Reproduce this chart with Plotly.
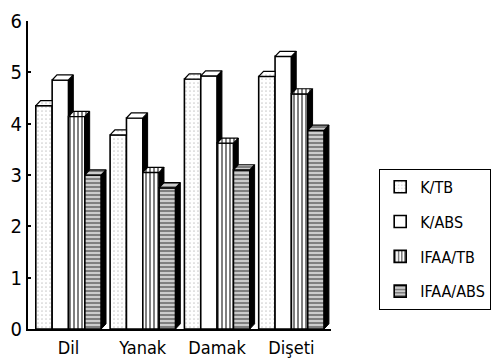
import plotly.graph_objects as go

# Mean scores per oral site for each group
categories = ["Dil", "Yanak", "Damak", "Dişeti"]
series_names = ["K/TB", "K/ABS", "IFAA/TB", "IFAA/ABS"]
k_tb = [4.35, 3.78, 4.87, 4.92]
k_abs = [4.85, 4.11, 4.93, 5.31]
ifaa_tb = [4.14, 3.05, 3.62, 4.58]
ifaa_abs = [3.00, 2.75, 3.10, 3.87]
y_ticks = [0, 1, 2, 3, 4, 5, 6]

series_values = [k_tb, k_abs, ifaa_tb, ifaa_abs]

FONT = "DejaVu Sans Condensed, Liberation Sans, Arial, sans-serif"

# fill patterns for each series (front face)
patterns = [
    dict(shape=".", fgcolor="#9a9a9a", bgcolor="white", size=4, solidity=0.15),
    dict(shape="", fgcolor="black", bgcolor="white"),
    dict(shape="|", fgcolor="black", bgcolor="white", size=4, solidity=0.5),
    dict(shape="-", fgcolor="black", bgcolor="white", size=4, solidity=0.7),
]

n_series = len(series_values)
group_width = 0.88
bar_w = group_width / n_series
offsets = [-group_width / 2 + bar_w * (i + 0.5) for i in range(n_series)]

# pseudo-3D depth in data units (about 5 px each way)
x_range = [-0.545, 3.533]
y_range = [0, 6]
depth_x = 0.065
depth_y = 0.10

fig = go.Figure()

for i, (name, vals) in enumerate(zip(series_names, series_values)):
    fig.add_trace(go.Bar(
        name=name,
        x=[j + offsets[i] for j in range(len(categories))],
        y=vals,
        width=bar_w,
        marker=dict(color="white", pattern=patterns[i],
                    line=dict(color="black", width=1.6)),
        legendgroup=name,
    ))

# side faces (dark), clipped where the neighbouring bar's front hides them
for i, vals in enumerate(series_values):
    xs, ys = [], []
    for j, v in enumerate(vals):
        right = j + offsets[i] + bar_w / 2
        bottom = 0.0
        if i + 1 < n_series:
            nxt = series_values[i + 1][j]
            if nxt >= v:
                continue
            bottom = nxt
        xs += [right, right + depth_x, right + depth_x, right, right, None]
        ys += [bottom, bottom + depth_y, v + depth_y, v, bottom, None]
    fig.add_trace(go.Scatter(
        x=xs, y=ys, mode="lines", fill="toself", fillcolor="black",
        line=dict(color="black", width=1), hoverinfo="skip", showlegend=False,
    ))

# top faces
for i, vals in enumerate(series_values):
    xs, ys = [], []
    for j, v in enumerate(vals):
        left = j + offsets[i] - bar_w / 2
        right = j + offsets[i] + bar_w / 2
        hidden_right = i + 1 < n_series and series_values[i + 1][j] > v
        if hidden_right:
            xs += [left, right, right, left + depth_x, left, None]
            ys += [v, v, v + depth_y, v + depth_y, v, None]
        else:
            xs += [left, right, right + depth_x, left + depth_x, left, None]
            ys += [v, v, v + depth_y, v + depth_y, v, None]
    p = patterns[i]
    fill_kw = {}
    if p["shape"]:
        fill_kw["fillpattern"] = dict(shape=p["shape"], fgcolor=p["fgcolor"],
                                      bgcolor="white", size=p.get("size", 4),
                                      solidity=p.get("solidity", 0.3))
    fig.add_trace(go.Scatter(
        x=xs, y=ys, mode="lines", fill="toself", fillcolor="white",
        line=dict(color="black", width=1.2), hoverinfo="skip",
        showlegend=False, **fill_kw,
    ))

fig.update_layout(
    width=503, height=359,
    margin=dict(l=28, r=161, t=21, b=30),
    paper_bgcolor="white", plot_bgcolor="white",
    barmode="overlay",
    font=dict(family=FONT, size=18, color="black"),
    showlegend=True,
    legend=dict(
        x=1.159, y=0.52, xanchor="left", yanchor="top",
        bordercolor="black", borderwidth=1, bgcolor="white",
        font=dict(family=FONT, size=16, color="black"),
        tracegroupgap=11, itemwidth=30,
    ),
    xaxis=dict(
        range=x_range, tickmode="array",
        tickvals=list(range(len(categories))), ticktext=categories,
        showgrid=False, zeroline=False, showline=True,
        linecolor="black", linewidth=2, ticks="",
        tickfont=dict(family=FONT, size=18),
        ticklabelstandoff=1, automargin=False,
    ),
    yaxis=dict(
        range=y_range, tickmode="array", tickvals=y_ticks,
        ticktext=[str(t) for t in y_ticks],
        showgrid=False, zeroline=False, showline=True,
        linecolor="black", linewidth=2, ticks="inside",
        ticklen=3, tickwidth=2, tickcolor="black",
        tickfont=dict(family=FONT, size=20),
        ticklabelstandoff=0, automargin=False,
    ),
)

fig.write_html("out.html")
